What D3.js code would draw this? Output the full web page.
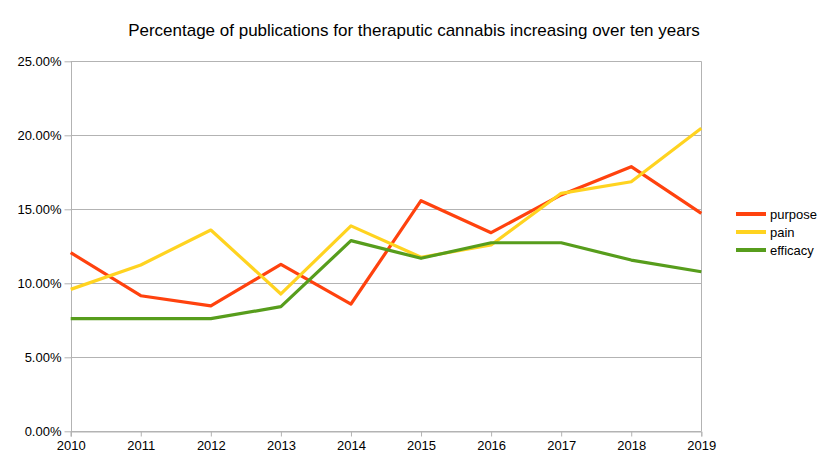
<!DOCTYPE html>
<html>
<head>
<meta charset="utf-8">
<script src="https://cdn.jsdelivr.net/npm/d3@7"></script>
<style>
  body { margin: 0; background: #fff; }
  text { font-family: "Liberation Sans", Arial, sans-serif; }
</style>
</head>
<body>
<div id="chart"></div>
<script>
// data
var years = [2010, 2011, 2012, 2013, 2014, 2015, 2016, 2017, 2018, 2019];
var purpose = [12.07, 9.16, 8.47, 11.28, 8.6, 15.58, 13.42, 15.97, 17.88, 14.73];
var pain = [9.59, 11.24, 13.6, 9.28, 13.88, 11.76, 12.59, 16.08, 16.86, 20.47];
var efficacy = [7.61, 7.61, 7.61, 8.42, 12.88, 11.69, 12.74, 12.74, 11.57, 10.78];
var yTicks = [0, 5, 10, 15, 20, 25];

var seriesNames = ["purpose", "pain", "efficacy"];
var seriesColors = ["#ff420e", "#ffd320", "#579d1c"];
var seriesData = [purpose, pain, efficacy];

var width = 828, height = 466;

var svg = d3.select("#chart")
    .append("svg")
    .attr("width", width)
    .attr("height", height);

var x = d3.scaleLinear()
    .domain([2010, 2019])
    .range([70.7, 701.3]);

var y = d3.scaleLinear()
    .domain([0, 25])
    .range([431.3, 61.3]);

// title
svg.append("text")
    .attr("x", 414)
    .attr("y", 36)
    .attr("text-anchor", "middle")
    .attr("font-size", "17px")
    .attr("fill", "#000")
    .text("Percentage of publications for theraputic cannabis increasing over ten years");

// horizontal grid lines
svg.append("g")
    .selectAll("line")
    .data(yTicks)
    .enter()
    .append("line")
    .attr("x1", x(2010))
    .attr("x2", x(2019))
    .attr("y1", d => Math.round(y(d)) + 0.5)
    .attr("y2", d => Math.round(y(d)) + 0.5)
    .attr("stroke", "#b3b3b3")
    .attr("stroke-width", 1);

// y axis
var yAxis = svg.append("g")
    .attr("transform", "translate(" + (Math.round(x(2010)) + 0.5) + ",0)")
    .call(d3.axisLeft(y)
        .tickValues(yTicks)
        .tickSize(7)
        .tickPadding(3)
        .tickFormat(d => d.toFixed(2) + "%"));

// x axis
var xAxis = svg.append("g")
    .attr("transform", "translate(0," + (Math.round(y(0)) + 0.5) + ")")
    .call(d3.axisBottom(x)
        .tickValues(years)
        .tickSize(5)
        .tickPadding(4)
        .tickFormat(d3.format("d")));

// right border of plot
svg.append("line")
    .attr("x1", Math.round(x(2019)) + 0.5)
    .attr("x2", Math.round(x(2019)) + 0.5)
    .attr("y1", y(25))
    .attr("y2", y(0))
    .attr("stroke", "#b3b3b3");

[yAxis, xAxis].forEach(function(ax) {
    ax.selectAll("path").attr("stroke", "#b3b3b3");
    ax.selectAll("line").attr("stroke", "#b3b3b3");
    ax.selectAll("text")
        .attr("font-size", "13px")
        .attr("fill", "#000")
        .style("font-family", "'Liberation Sans', Arial, sans-serif");
});
yAxis.select(".domain").attr("d", "M0," + y(25) + "V" + (y(0) + 5));

// series lines
var line = d3.line()
    .x((d, i) => x(years[i]))
    .y(d => y(d));

svg.append("g")
    .selectAll("path")
    .data(seriesData)
    .enter()
    .append("path")
    .attr("d", d => line(d))
    .style("fill", "none")
    .attr("stroke", (d, i) => seriesColors[i])
    .attr("stroke-width", 3.2)
    .attr("stroke-linejoin", "round");

// legend
var legend = svg.append("g")
    .selectAll("g")
    .data(seriesNames)
    .enter()
    .append("g")
    .attr("transform", (d, i) => "translate(736," + (214 + i * 18) + ")");

legend.append("line")
    .attr("x1", 0)
    .attr("x2", 30)
    .attr("stroke", (d, i) => seriesColors[i])
    .attr("stroke-width", 4);

legend.append("text")
    .attr("x", 34)
    .attr("y", 5)
    .attr("font-size", "13px")
    .attr("fill", "#000")
    .text(d => d);
</script>
</body>
</html>
